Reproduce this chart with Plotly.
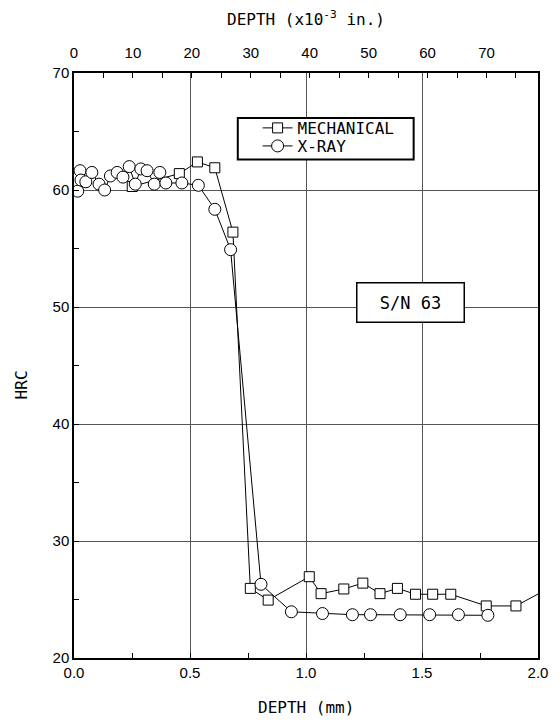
import plotly.graph_objects as go

# ---- data ----
xray_depth_mm = [0.016, 0.026, 0.030, 0.051, 0.077, 0.108, 0.132, 0.157, 0.186, 0.211,
                 0.238, 0.264, 0.288, 0.315, 0.346, 0.370, 0.396, 0.465, 0.536, 0.607,
                 0.675, 0.806, 0.937, 1.071, 1.200, 1.278, 1.406, 1.533, 1.657, 1.784]
xray_hrc = [59.9, 61.65, 60.85, 60.7, 61.5, 60.5, 60.0, 61.2, 61.5, 61.1,
            62.0, 60.5, 61.8, 61.65, 60.5, 61.5, 60.6, 60.6, 60.4, 58.35,
            54.9, 26.3, 23.95, 23.8, 23.7, 23.7, 23.7, 23.7, 23.7, 23.65]

mech_depth_mm = [0.251, 0.454, 0.532, 0.607, 0.685, 0.760, 0.837, 1.014, 1.065, 1.163,
                 1.245, 1.319, 1.394, 1.472, 1.546, 1.624, 1.777, 1.905, 2.05]
mech_hrc = [60.3, 61.4, 62.4, 61.9, 56.4, 25.95, 24.95, 26.95, 25.5, 25.9,
            26.4, 25.5, 25.95, 25.45, 25.45, 25.45, 24.45, 24.45, 26.0]

bottom_ticks = [0.0, 0.5, 1.0, 1.5, 2.0]
bottom_labels = ["0.0", "0.5", "1.0", "1.5", "2.0"]
top_ticks = [0, 10, 20, 30, 40, 50, 60, 70]
y_ticks = [20, 30, 40, 50, 60, 70]

MONO = "DejaVu Sans Mono"
SANS = "Liberation Sans"
MM_PER_MIL = 0.0254

fig = go.Figure()
fig.add_trace(go.Scatter(
    x=mech_depth_mm, y=mech_hrc, mode="lines+markers", name="MECHANICAL",
    legend="legend",
    line=dict(color="black", width=1),
    marker=dict(symbol="square", size=10, color="white", line=dict(color="black", width=1)),
))
fig.add_trace(go.Scatter(
    x=xray_depth_mm, y=xray_hrc, mode="lines+markers", name="X-RAY",
    legend="legend2",
    line=dict(color="black", width=1),
    marker=dict(symbol="circle", size=12, color="white", line=dict(color="black", width=1)),
))
# invisible trace to activate the top axis
fig.add_trace(go.Scatter(x=[0, 2.0 / MM_PER_MIL], y=[None, None], xaxis="x2",
                         showlegend=False, hoverinfo="skip", mode="lines"))

axis_common = dict(showline=True, linecolor="black", linewidth=1.5,
                   tickfont=dict(family=SANS, size=15, color="black"),
                   zeroline=False)

legend_common = dict(xanchor="left", yanchor="middle", bgcolor="rgba(0,0,0,0)",
                     borderwidth=0, font=dict(family=MONO, size=16, color="black"))

fig.update_layout(
    width=552, height=713,
    margin=dict(l=66, r=16, t=65, b=63),
    paper_bgcolor="white", plot_bgcolor="white",
    showlegend=True,
    legend=dict(x=0.3957, y=0.9060, **legend_common),
    legend2=dict(x=0.3957, y=0.8752, **legend_common),
    xaxis=dict(range=[0, 2.0], tickvals=bottom_ticks, ticktext=bottom_labels,
               ticks="inside", ticklen=0, mirror=False,
               showgrid=True, gridcolor="#555", gridwidth=1,
               minor=dict(dtick=0.25, tick0=0, ticks="inside", ticklen=5,
                          tickcolor="black", showgrid=False),
               **axis_common),
    xaxis2=dict(range=[0, 2.0 / MM_PER_MIL], overlaying="x", side="top",
                tickvals=top_ticks, ticks="inside", ticklen=5, tickcolor="black",
                showgrid=False, ticklabelstandoff=7,
                minor=dict(dtick=5, tick0=0, ticks="inside", ticklen=5,
                           tickcolor="black"),
                **axis_common),
    yaxis=dict(range=[20, 70], tickvals=y_ticks, ticks="inside", ticklen=0,
               mirror=True, showgrid=True, gridcolor="#555", gridwidth=1,
               minor=dict(dtick=5, tick0=20, ticks="inside", ticklen=5,
                          tickcolor="black", showgrid=False),
               **axis_common),
)

# legend frame
fig.add_shape(type="rect", xref="x", yref="y", x0=0.706, x1=1.464, y0=62.6, y1=66.15,
              fillcolor="white", line=dict(color="black", width=2), layer="above")

# S/N box
fig.add_annotation(x=1.45, y=50.38, xref="x", yref="y", text="S/N 63", showarrow=False,
                   font=dict(family=MONO, size=17, color="black"),
                   bgcolor="white", bordercolor="black", borderwidth=1.5,
                   width=104, height=36)

# axis titles
fig.add_annotation(x=0.5, y=1, xref="paper", yref="paper", yshift=55, yanchor="middle",
                   text="DEPTH (x10<sup>-3</sup> in.)", showarrow=False,
                   font=dict(family=MONO, size=16, color="black"))
fig.add_annotation(x=0.5, y=0, xref="paper", yref="paper", yshift=-49, yanchor="middle",
                   text="DEPTH (mm)", showarrow=False,
                   font=dict(family=MONO, size=16, color="black"))
fig.add_annotation(x=0, y=0.466, xref="paper", yref="paper", xshift=-53, xanchor="center",
                   text="HRC", textangle=-90, showarrow=False,
                   font=dict(family=MONO, size=16, color="black"))

fig.write_html("out.html")
